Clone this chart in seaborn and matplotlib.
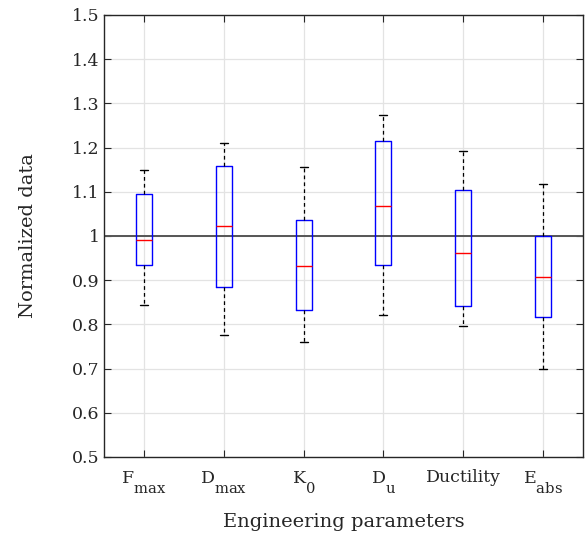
import numpy as np
import pandas as pd
import seaborn as sns
import matplotlib
matplotlib.use("Agg")
import matplotlib.pyplot as plt
import matplotlib._mathtext as _mt

# Engineering parameters (category labels, TeX-style subscripts)
categories = ["F$_{\\mathrm{max}}$", "D$_{\\mathrm{max}}$", "K$_{\\mathrm{0}}$",
              "D$_{\\mathrm{u}}$", "Ductility", "E$_{\\mathrm{abs}}$"]

# Normalized samples for each parameter: lower whisker, Q1, median, Q3, upper whisker
f_max = [0.845, 0.934, 0.992, 1.094, 1.149]
d_max = [0.777, 0.885, 1.023, 1.158, 1.210]
k_0 = [0.761, 0.833, 0.931, 1.036, 1.157]
d_u = [0.821, 0.934, 1.068, 1.216, 1.273]
ductility = [0.797, 0.842, 0.962, 1.105, 1.192]
e_abs = [0.698, 0.817, 0.908, 1.001, 1.118]

series = [f_max, d_max, k_0, d_u, ductility, e_abs]
y_ticks = [0.5, 0.6, 0.7, 0.8, 0.9, 1.0, 1.1, 1.2, 1.3, 1.4, 1.5]
y_ticklabels = ["0.5", "0.6", "0.7", "0.8", "0.9", "1", "1.1", "1.2", "1.3", "1.4", "1.5"]

df = pd.DataFrame({
    "parameter": np.repeat(categories, [len(s) for s in series]),
    "value": np.concatenate(series),
})

# larger, lower subscripts (TeX-interpreter look)
_mt.SHRINK_FACTOR = 0.85
for _cls in (_mt.FontConstantsBase, _mt.DejaVuSerifFontConstants):
    _cls.sub1 = 1.15

sns.set_theme(style="white")
plt.rcParams["font.family"] = ["DejaVu Serif"]
plt.rcParams["mathtext.fontset"] = "custom"
plt.rcParams["mathtext.rm"] = "DejaVu Serif"
plt.rcParams["mathtext.it"] = "DejaVu Serif:italic"

fig = plt.figure(figsize=(5.85, 5.35), dpi=100)
ax = fig.add_axes([0.1778, 0.1458, 0.8188, 0.8262])

# reference line at normalized value 1
ax.axhline(1.0, color="#555555", lw=1.4, zorder=1)

sns.boxplot(
    data=df, x="parameter", y="value", order=categories, ax=ax,
    width=0.2, whis=np.inf, fill=False, showfliers=False, color="#0000ff",
    boxprops=dict(color="#0000ff", linewidth=1.0),
    medianprops=dict(color="#ff0000", linewidth=1.0),
    whiskerprops=dict(color="black", linewidth=0.9, linestyle=(0, (3, 2.5))),
    capprops=dict(color="black", linewidth=1.0),
)

ax.set_xlim(-0.5, 5.5)
ax.set_ylim(0.5, 1.5)
ax.set_yticks(y_ticks)
ax.set_yticklabels(y_ticklabels)

ax.grid(True, color="#e3e3e3", lw=0.9, zorder=0)
ax.set_axisbelow(True)

for s in ax.spines.values():
    s.set_visible(True)
    s.set_color("#262626")
    s.set_linewidth(1.0)

ax.tick_params(axis="both", direction="in", length=5, width=0.8, color="#262626",
               labelsize=12.5, labelcolor="#262626", top=True, right=True,
               left=True, bottom=True)
ax.tick_params(axis="x", pad=9)
ax.tick_params(axis="y", pad=3)

ax.set_xlabel("Engineering parameters", fontsize=14, color="#262626", labelpad=12)
ax.set_ylabel("Normalized data", fontsize=14, color="#262626", labelpad=25)

fig.savefig("out.png", dpi=100)
